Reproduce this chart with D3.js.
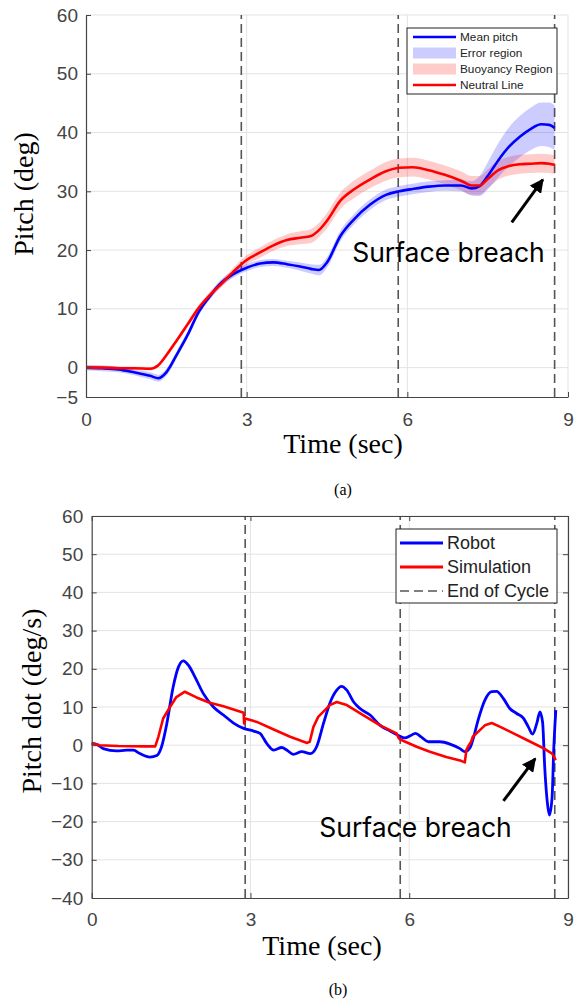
<!DOCTYPE html>
<html>
<head>
<meta charset="utf-8">
<script src="https://cdn.jsdelivr.net/npm/d3@7"></script>
<style>
  body { margin: 0; background: #fff; }
  svg { display: block; }
</style>
</head>
<body>
<script>
// ---- panel (a): pitch ----
const timeA = [0, 0.3, 0.6, 0.9, 1.2, 1.35, 1.5, 1.7, 1.9, 2.1, 2.3, 2.5, 2.75, 3.0, 3.25, 3.5, 3.75, 4.0, 4.2, 4.35,
  4.5, 4.75, 5.0, 5.3, 5.6, 5.85, 6.1, 6.4, 6.7, 7.0, 7.2, 7.35, 7.5, 7.7, 7.9, 8.1, 8.3, 8.5, 8.65, 8.75];
const meanPitch = [0, -0.1, -0.3, -0.8, -1.4, -1.8, -0.8, 2.3, 5.6, 9.4, 12.0, 14.2, 15.9, 17.0, 17.7, 17.9, 17.6, 17.2, 16.8, 16.6,
  17.9, 22.4, 25.2, 27.7, 29.4, 30.0, 30.4, 30.8, 31.0, 31.0, 30.5, 30.9, 32.6, 35.3, 37.6, 39.3, 40.6, 41.4, 41.3, 40.8];
const errorHalf = [0.5, 0.5, 0.5, 0.5, 0.6, 0.6, 0.6, 0.6, 0.6, 0.6, 0.6, 0.6, 0.6, 0.6, 0.6, 0.6, 0.6, 0.7, 0.8, 0.9,
  0.9, 0.9, 0.9, 0.9, 0.9, 0.9, 0.9, 0.9, 0.9, 1.0, 1.2, 1.7, 2.3, 2.9, 3.3, 3.5, 3.6, 3.7, 3.8, 3.8];
const neutralLine = [0, 0, -0.1, -0.1, -0.2, 0.4, 2.1, 4.7, 7.4, 10.1, 12.2, 14.0, 16.3, 18.3, 19.6, 20.8, 21.7, 22.1, 22.4, 23.4,
  25.0, 28.4, 30.3, 32.0, 33.4, 34.0, 34.1, 33.6, 32.8, 31.8, 31.0, 31.0, 32.1, 33.6, 34.3, 34.6, 34.7, 34.8, 34.7, 34.5];
const buoyHalf = [0.3, 0.3, 0.3, 0.3, 0.3, 0.3, 0.4, 0.4, 0.5, 0.5, 0.6, 0.6, 0.7, 0.8, 0.9, 0.9, 1.0, 1.1, 1.2, 1.2,
  1.3, 1.4, 1.5, 1.5, 1.6, 1.6, 1.6, 1.6, 1.6, 1.6, 1.6, 1.6, 1.6, 1.6, 1.6, 1.6, 1.6, 1.6, 1.6, 1.6];

// ---- panel (b): pitch rate ----
const timeRobot = [0, 0.1, 0.22, 0.47, 0.66, 0.79, 0.91, 1.1, 1.23, 1.32, 1.42, 1.54, 1.64, 1.73, 1.83, 1.95, 2.11, 2.3, 2.49, 2.68,
  2.87, 3.06, 3.18, 3.31, 3.44, 3.59, 3.69, 3.81, 3.97, 4.13, 4.25, 4.38, 4.5, 4.63, 4.72, 4.82, 4.95, 5.07, 5.26, 5.45,
  5.64, 5.79, 5.92, 6.01, 6.12, 6.23, 6.36, 6.58, 6.77, 6.96, 7.05, 7.15, 7.21, 7.3, 7.43, 7.56, 7.65, 7.78, 7.9, 8.03,
  8.16, 8.25, 8.33, 8.41, 8.47, 8.52, 8.56, 8.62, 8.65, 8.7, 8.73, 8.77];
const robotRate = [0.5, 0.2, -0.9, -1.5, -1.3, -1.3, -2.2, -3.1, -2.7, -0.4, 5.7, 15.3, 20.5, 22.1, 20.9, 17.9, 13.5, 10.0, 7.9, 5.8,
  4.4, 3.7, 3.1, 0.4, -1.3, -0.6, -1.3, -2.4, -1.7, -2.2, -0.4, 5.7, 11.0, 14.4, 15.4, 14.4, 11.3, 9.6, 7.9, 5.2,
  3.7, 2.6, 1.9, 2.4, 3.1, 2.1, 0.9, 0.9, 0.3, -0.9, -1.7, -0.6, 1.8, 6.5, 11.8, 14.0, 14.1, 12.2, 9.6, 8.3,
  7.0, 4.8, 2.9, 5.7, 8.7, 6.0, -5.7, -16.2, -18.3, -13.5, -1.3, 9.2];
const timeSim = [0, 0.15, 0.5, 1.0, 1.2, 1.26, 1.35, 1.48, 1.6, 1.76, 1.98, 2.23, 2.49, 2.87, 2.88, 2.9, 3.12, 3.44, 3.75, 4.07,
  4.12, 4.19, 4.28, 4.5, 4.63, 4.82, 5.13, 5.45, 5.76, 5.8, 5.83, 6.14, 6.39, 6.7, 6.98, 7.05, 7.08, 7.11, 7.17, 7.2,
  7.3, 7.43, 7.56, 7.72, 7.97, 8.29, 8.55, 8.7, 8.77];
const simRate = [0.5, 0, -0.2, -0.3, -0.3, 2.2, 7.0, 10.0, 12.6, 14.0, 12.5, 11.1, 10.2, 8.5, 5.7, 7.0, 6.1, 4.1, 2.2, 0.6,
  0.9, 4.8, 7.4, 10.5, 11.3, 10.5, 7.9, 5.2, 3.1, 1.9, 1.5, -0.4, -1.7, -3.1, -4.1, -4.5, -1.3, -0.4, 0.9, 2.2,
  3.5, 5.2, 5.8, 4.8, 3.1, 0.9, -0.9, -2.2, -3.9];

const cycleEnds = [2.9, 5.83, 8.75];
const xTicks = [0, 3, 6, 9];
const yTicksA = [-5, 0, 10, 20, 30, 40, 50, 60];
const yTicksB = [-40, -30, -20, -10, 0, 10, 20, 30, 40, 50, 60];
const legendA = ["Mean pitch", "Error region", "Buoyancy Region", "Neutral Line"];
const legendB = ["Robot", "Simulation", "End of Cycle"];

const BLUE = "#0000ff", RED = "#ff0000";
const sans = "'Liberation Sans', Arial, sans-serif";
const serif = "'Liberation Serif', 'Times New Roman', serif";

const svg = d3.create("svg").attr("width", 576).attr("height", 1002);
document.body.appendChild(svg.node());

const defs = svg.append("defs");
defs.append("marker")
  .attr("id", "arrow")
  .attr("markerUnits", "userSpaceOnUse")
  .attr("viewBox", "0 0 10 10")
  .attr("refX", 9).attr("refY", 5)
  .attr("markerWidth", 14).attr("markerHeight", 14)
  .attr("orient", "auto")
  .append("path").attr("d", "M0,0 L10,5 L0,10 z").attr("fill", "#000");

const styleAxis = (g, size) => {
  g.select(".domain").attr("stroke", "#444").attr("stroke-width", 1.2);
  g.selectAll(".tick line").attr("stroke", "#444");
  g.selectAll(".tick text").attr("fill", "#444").attr("font-family", sans).attr("font-size", size);
};

const gridAndCycles = (g, x, y, yTicks) => {
  const [x0, x1] = x.range(), [y0, y1] = y.range();
  g.append("g").selectAll("line").data(yTicks.filter(d => d !== y.domain()[0]))
    .join("line")
    .attr("x1", x0).attr("x2", x1)
    .attr("y1", d => y(d)).attr("y2", d => y(d))
    .attr("stroke", "#e3e3e3");
  g.append("g").selectAll("line").data(xTicks.filter(d => d !== 0))
    .join("line")
    .attr("x1", d => x(d)).attr("x2", d => x(d))
    .attr("y1", y0).attr("y2", y1)
    .attr("stroke", "#e3e3e3");
  g.append("g").selectAll("line").data(cycleEnds)
    .join("line")
    .attr("x1", d => x(d)).attr("x2", d => x(d))
    .attr("y1", y0).attr("y2", y1)
    .attr("stroke", "#555").attr("stroke-width", 1.6)
    .attr("stroke-dasharray", "9,5");
};

const annotate = (g, x, y, tip, tail, textAt, size) => {
  g.append("line")
    .attr("x1", x(tail[0])).attr("y1", y(tail[1]))
    .attr("x2", x(tip[0])).attr("y2", y(tip[1]))
    .attr("stroke", "#000").attr("stroke-width", 3)
    .attr("marker-end", "url(#arrow)");
  g.append("text")
    .attr("x", x(textAt[0])).attr("y", y(textAt[1]))
    .attr("font-family", "Inter, 'Open Sans', sans-serif")
    .attr("font-size", size)
    .attr("fill", "#000")
    .text("Surface breach");
};

// ================= panel (a) =================
const xA = d3.scaleLinear([0, 9], [86, 568]);
const yA = d3.scaleLinear([-5, 60], [397, 15]);
const gA = svg.append("g");
gridAndCycles(gA, xA, yA, yTicksA);

const ptsA = timeA.map((t, i) => ({ t, m: meanPitch[i], e: errorHalf[i], n: neutralLine[i], b: buoyHalf[i] }));
const curve = d3.curveMonotoneX;

gA.append("path").datum(ptsA)
  .attr("fill", RED).attr("fill-opacity", 0.2)
  .attr("d", d3.area().curve(curve).x(d => xA(d.t)).y0(d => yA(d.n - d.b)).y1(d => yA(d.n + d.b)));
gA.append("path").datum(ptsA)
  .attr("fill", BLUE).attr("fill-opacity", 0.2)
  .attr("d", d3.area().curve(curve).x(d => xA(d.t)).y0(d => yA(d.m - d.e)).y1(d => yA(d.m + d.e)));
gA.append("path").datum(ptsA)
  .attr("fill", "none").attr("stroke", BLUE).attr("stroke-width", 2.6)
  .attr("d", d3.line().curve(curve).x(d => xA(d.t)).y(d => yA(d.m)));
gA.append("path").datum(ptsA)
  .attr("fill", "none").attr("stroke", RED).attr("stroke-width", 2.6)
  .attr("d", d3.line().curve(curve).x(d => xA(d.t)).y(d => yA(d.n)));

gA.append("g").attr("transform", "translate(86,0)")
  .call(d3.axisLeft(yA).tickValues(yTicksA).tickSize(-5).tickSizeOuter(0).tickPadding(8))
  .call(g => styleAxis(g, 19));
gA.append("g").attr("transform", "translate(0,397)")
  .call(d3.axisBottom(xA).tickValues(xTicks).tickSize(-5).tickSizeOuter(0).tickPadding(16))
  .call(g => styleAxis(g, 19));

// legend (a)
const legA = gA.append("g").attr("transform", "translate(407,28)");
legA.append("rect").attr("width", 150).attr("height", 66).attr("fill", "#fff").attr("stroke", "#222");
legendA.forEach((name, i) => {
  const ry = 9 + i * 16;
  if (i === 1 || i === 2) {
    legA.append("rect").attr("x", 6).attr("y", ry - 5.5).attr("width", 43).attr("height", 11)
      .attr("fill", i === 1 ? BLUE : RED).attr("fill-opacity", 0.2);
  } else {
    legA.append("line").attr("x1", 6).attr("x2", 49).attr("y1", ry).attr("y2", ry)
      .attr("stroke", i === 0 ? BLUE : RED).attr("stroke-width", 2.6);
  }
  legA.append("text").attr("x", 53).attr("y", ry).attr("dy", "0.35em")
    .attr("font-family", sans).attr("font-size", 11.8).attr("fill", "#222").text(name);
});

annotate(gA, xA, yA, [8.53, 32.0], [7.95, 24.7], [4.97, 17.9], 26.5);

gA.append("text").attr("transform", "translate(33,194) rotate(-90)")
  .attr("text-anchor", "middle").attr("font-family", serif).attr("font-size", 28).text("Pitch (deg)");
gA.append("text").attr("x", 343).attr("y", 453)
  .attr("text-anchor", "middle").attr("font-family", serif).attr("font-size", 28).text("Time (sec)");
gA.append("text").attr("x", 343).attr("y", 495)
  .attr("text-anchor", "middle").attr("font-family", serif).attr("font-size", 16).text("(a)");

// ================= panel (b) =================
const xB = d3.scaleLinear([0, 9], [91.7, 568]);
const yB = d3.scaleLinear([-40, 60], [898, 516]);
const gB = svg.append("g");
gridAndCycles(gB, xB, yB, yTicksB);

gB.append("path").datum(timeRobot.map((t, i) => [t, robotRate[i]]))
  .attr("fill", "none").attr("stroke", BLUE).attr("stroke-width", 2.8)
  .attr("stroke-linejoin", "round")
  .attr("d", d3.line().curve(d3.curveMonotoneX).x(d => xB(d[0])).y(d => yB(d[1])));
gB.append("path").datum(timeSim.map((t, i) => [t, simRate[i]]))
  .attr("fill", "none").attr("stroke", RED).attr("stroke-width", 2.6)
  .attr("stroke-linejoin", "round")
  .attr("d", d3.line().x(d => xB(d[0])).y(d => yB(d[1])));

gB.append("g").attr("transform", "translate(91.7,0)")
  .call(d3.axisLeft(yB).tickValues(yTicksB).tickSize(-5).tickSizeOuter(0).tickPadding(8.5))
  .call(g => styleAxis(g, 19));
gB.append("g").attr("transform", "translate(568,0)")
  .call(d3.axisRight(yB).tickValues(yTicksB).tickSize(-5).tickSizeOuter(0).tickFormat(""))
  .call(g => styleAxis(g, 19));
gB.append("g").attr("transform", "translate(0,898)")
  .call(d3.axisBottom(xB).tickValues(xTicks).tickSize(-5).tickSizeOuter(0).tickPadding(15))
  .call(g => styleAxis(g, 19));
gB.append("g").attr("transform", "translate(0,516)")
  .call(d3.axisTop(xB).tickValues(xTicks).tickSize(-5).tickSizeOuter(0).tickFormat(""))
  .call(g => styleAxis(g, 19));

// legend (b)
const legB = gB.append("g").attr("transform", "translate(396,529)");
legB.append("rect").attr("width", 161).attr("height", 74).attr("fill", "#fff").attr("stroke", "#222");
legendB.forEach((name, i) => {
  const ry = 14 + i * 24;
  legB.append("line").attr("x1", 4).attr("x2", 47).attr("y1", ry).attr("y2", ry)
    .attr("stroke", i === 0 ? BLUE : i === 1 ? RED : "#555")
    .attr("stroke-width", i === 2 ? 1.6 : 2.8)
    .attr("stroke-dasharray", i === 2 ? "9,5" : null);
  legB.append("text").attr("x", 51).attr("y", ry).attr("dy", "0.35em")
    .attr("font-family", sans).attr("font-size", 18).attr("fill", "#222").text(name);
});

annotate(gB, xB, yB, [8.38, -3.5], [7.78, -14.6], [4.30, -24.1], 26.5);

gB.append("text").attr("transform", "translate(41,701) rotate(-90)")
  .attr("text-anchor", "middle").attr("font-family", serif).attr("font-size", 28).text("Pitch dot (deg/s)");
gB.append("text").attr("x", 322).attr("y", 955)
  .attr("text-anchor", "middle").attr("font-family", serif).attr("font-size", 28).text("Time (sec)");
gB.append("text").attr("x", 338).attr("y", 995)
  .attr("text-anchor", "middle").attr("font-family", serif).attr("font-size", 16).text("(b)");
</script>
</body>
</html>
